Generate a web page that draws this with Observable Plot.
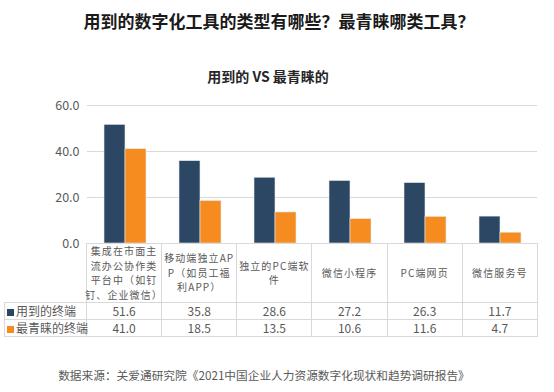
<!DOCTYPE html>
<html><head><meta charset="utf-8">
<script src="https://cdn.jsdelivr.net/npm/d3@7"></script>
<script src="https://cdn.jsdelivr.net/npm/@observablehq/plot@0.6"></script>
<style>
body{margin:0;background:#fff;font-family:"Noto Sans CJK SC","Noto Sans",sans-serif;}
#wrap{position:relative;width:554px;height:392px;overflow:hidden;background:#fff}
#title{position:absolute;left:2px;width:554px;top:11px;text-align:center;font-size:17px;line-height:20px;font-weight:bold;color:#1a1a1a}
#subtitle{position:absolute;left:-9px;width:554px;top:68px;text-align:center;font-size:14px;line-height:16px;font-weight:bold;color:#262626}
#chart{position:absolute;left:0;top:0}
#caption{position:absolute;left:-13px;width:554px;top:368px;text-align:center;font-size:11.7px;line-height:14px;color:#595959}
table{position:absolute;left:4px;top:243px;border-collapse:collapse;table-layout:fixed;width:533px;font-size:12px;color:#595959}
td{border:1px solid #d9d9d9;padding:0;text-align:center;white-space:nowrap;overflow:visible}
td.blank{border:none}
tr.hdr td{height:57px;font-size:10px;letter-spacing:1.1px;line-height:14.5px;vertical-align:middle}
tr.hdr td div{margin:0 -12px}
tr.row td{height:16px;line-height:16px}
td.lab{text-align:left;padding-left:2px}
.mk{display:inline-block;width:7px;height:7px;margin-right:2px;vertical-align:0px}
</style></head>
<body><div id="wrap">
<div id="title"></div>
<div id="subtitle"></div>
<div id="chart"></div>
<table id="tbl"></table>
<div id="caption"></div>
</div>
<script>
const titleText = "用到的数字化工具的类型有哪些？最青睐哪类工具？";
const subtitleText = "用到的 VS 最青睐的";
const captionText = "数据来源：关爱通研究院《2021中国企业人力资源数字化现状和趋势调研报告》";
const categories = ["集成在市面主流办公协作类平台中（如钉钉、企业微信）","移动端独立APP（如员工福利APP）","独立的PC端软件","微信小程序","PC端网页","微信服务号"];
const categoryLines = [
  ["集成在市面主","流办公协作类","平台中（如钉","钉、企业微信）"],
  ["移动端独立AP","P（如员工福","利APP）"],
  ["独立的PC端软","件"],
  ["微信小程序"],
  ["PC端网页"],
  ["微信服务号"]
];
const seriesNames = ["用到的终端","最青睐的终端"];
const usedValues = [51.6,35.8,28.6,27.2,26.3,11.7];
const favoredValues = [41.0,18.5,13.5,10.6,11.6,4.7];
const seriesColors = ["#2C4763","#F68B1F"];
const yTicks = [0,20,40,60];

document.getElementById("title").textContent = titleText;
document.getElementById("subtitle").textContent = subtitleText;
document.getElementById("caption").textContent = captionText;

const seriesValues = [usedValues, favoredValues];
const data = categories.flatMap((c,i)=>seriesNames.map((s,j)=>({cat:c, series:s, value:seriesValues[j][i]})));

const chart = Plot.plot({
  width:554, height:253,
  marginTop:105, marginBottom:10, marginLeft:86, marginRight:17,
  style:{fontFamily:'"Noto Sans CJK SC","Noto Sans",sans-serif', fontSize:"12px", color:"#595959", background:"transparent", overflow:"visible"},
  fx:{domain:categories, padding:0, axis:null, label:null},
  x:{domain:seriesNames, axis:null, paddingInner:0, paddingOuter:0.75},
  y:{domain:[0,60], axis:null},
  color:{domain:seriesNames, range:seriesColors},
  marks:[
    Plot.gridY(yTicks,{stroke:"#d9d9d9", strokeOpacity:1, strokeWidth:1}),
    Plot.barY(data,{fx:"cat", x:"series", y:"value", fill:"series", stroke:"#e6ebf0", strokeWidth:0.6}),
    Plot.axisY(yTicks,{tickSize:0, tickPadding:8, tickFormat:d=>d.toFixed(1), label:null, fill:"#595959", fontSize:12.5})
  ]
});
document.getElementById("chart").appendChild(chart);

// data table under the chart
const tbl = document.getElementById("tbl");
const cg = document.createElement("colgroup");
const c0 = document.createElement("col"); c0.style.width="82px"; cg.appendChild(c0);
categories.forEach(()=>{const c=document.createElement("col"); c.style.width=(451/categories.length)+"px"; cg.appendChild(c);});
tbl.appendChild(cg);
const hdr = document.createElement("tr"); hdr.className="hdr";
const b = document.createElement("td"); b.className="blank"; hdr.appendChild(b);
categoryLines.forEach(lines=>{
  const td=document.createElement("td");
  lines.forEach(l=>{const d=document.createElement("div"); d.textContent=l; td.appendChild(d);});
  hdr.appendChild(td);
});
tbl.appendChild(hdr);
seriesNames.forEach((s,j)=>{
  const tr=document.createElement("tr"); tr.className="row";
  const lab=document.createElement("td"); lab.className="lab";
  const mk=document.createElement("span"); mk.className="mk"; mk.style.background=seriesColors[j];
  lab.appendChild(mk); lab.appendChild(document.createTextNode(s));
  tr.appendChild(lab);
  seriesValues[j].forEach(v=>{const td=document.createElement("td"); td.textContent=v.toFixed(1); tr.appendChild(td);});
  tbl.appendChild(tr);
});
</script>
</body></html>
